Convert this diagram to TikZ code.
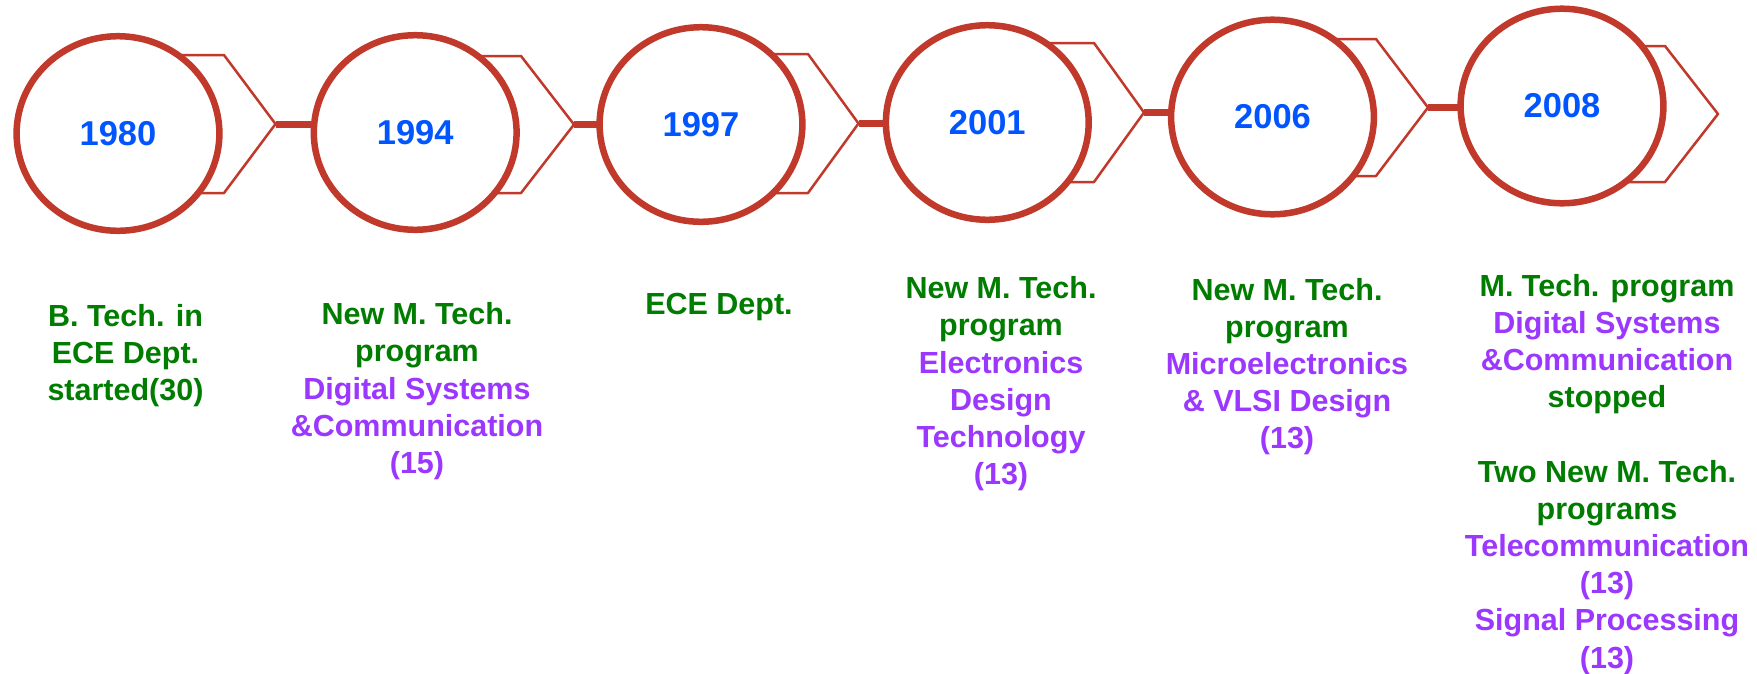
\documentclass[tikz,border=0pt]{standalone}
\usepackage{fontspec}
\setmainfont{Liberation Sans}
\usetikzlibrary{shapes.geometric}
\definecolor{ringred}{RGB}{192,57,43}
\definecolor{yearblue}{RGB}{0,85,255}
\definecolor{txtgreen}{RGB}{0,125,0}
\definecolor{txtpurple}{RGB}{155,55,255}
\pgfdeclarelayer{bg}
\pgfdeclarelayer{back}
\pgfsetlayers{bg,back,main}
\newcommand{\pl}[1]{\textcolor{txtpurple}{#1}}
\newcommand{\firstline}{\rule{0pt}{24.4pt}}
\begin{document}
\begin{tikzpicture}[x=1pt,y=-1pt,
  ring/.style={ellipse, draw=ringred, line width=6.5pt, fill=white,
    minimum width=202.8pt, minimum height=194.6pt, inner sep=0pt,
    text=yearblue, font=\fontsize{34.5}{40}\selectfont\bfseries},
  chev/.style={draw=ringred, line width=2.5pt, line join=round, fill=white},
  link/.style={draw=ringred, line width=7pt},
  desc/.style={anchor=north, align=center, inner sep=0pt, text=txtgreen,
    font=\fontsize{30.5}{37.2}\selectfont\bfseries}]
\begin{pgfonlayer}{bg}
\fill[white] (0,0) rectangle (1757,673);
\end{pgfonlayer}
\useasboundingbox (0,0) rectangle (1757,673);

% circles
\node[ring] (c1) at (118,133.5) {1980};
\node[ring] (c2) at (415.2,132.5) {1994};
\node[ring] (c3) at (701,124.5) {1997};
\node[ring] (c4) at (987.3,122.5) {2001};
\node[ring] (c5) at (1272.5,117) {2006};
\node[ring] (c6) at (1562,106) {2008};

\begin{pgfonlayer}{back}
\draw[chev] (c1.center |- 0,55) -- (224,55) -- (275.5,124) coordinate (t1) -- (224,193) -- (c1.center |- 0,193);
\draw[chev] (c2.center |- 0,56) -- (521,56) -- (574,124.5) coordinate (t2) -- (521,193) -- (c2.center |- 0,193);
\draw[chev] (c3.center |- 0,54) -- (808,54) -- (858.5,123.5) coordinate (t3) -- (808,193) -- (c3.center |- 0,193);
\draw[chev] (c4.center |- 0,43) -- (1094,43) -- (1144,112.5) coordinate (t4) -- (1094,182) -- (c4.center |- 0,182);
\draw[chev] (c5.center |- 0,39) -- (1376,39) -- (1428,107.5) coordinate (t5) -- (1376,176) -- (c5.center |- 0,176);
\draw[chev] (c6.center |- 0,46) -- (1665,46) -- (1718,114) coordinate (t6) -- (1665,182) -- (c6.center |- 0,182);
\draw[link] (t1) -- (t1 -| c2.center);
\draw[link] (t2) -- (t2 -| c3.center);
\draw[link] (t3) -- (t3 -| c4.center);
\draw[link] (t4) -- (t4 -| c5.center);
\draw[link] (t5) -- (t5 -| c6.center);
\end{pgfonlayer}

% descriptions
\node[desc] (d1) at (125.5,301.5) {\firstline B. Tech. in\\ECE Dept.\\started(30)};
\node[desc] (d2) at (417,300) {\firstline New M. Tech.\\program\\\pl{Digital Systems}\\\pl{\&Communication}\\\pl{(15)}};
\node[desc] (d3) at (719,289.5) {\firstline ECE Dept.};
\node[desc] (d4) at (1001,274) {\firstline New M. Tech.\\program\\\pl{Electronics}\\\pl{Design}\\\pl{Technology}\\\pl{(13)}};
\node[desc] (d5) at (1287,275.5) {\firstline New M. Tech.\\program\\\pl{Microelectronics}\\\pl{\& VLSI Design}\\\pl{(13)}};
\node[desc] (d6) at (1607,271.5) {\firstline M. Tech. program\\\pl{Digital Systems}\\\pl{\&Communication}\\stopped\\[37.2pt]Two New M. Tech.\\programs\\\pl{Telecommunication}\\\pl{(13)}\\\pl{Signal Processing}\\\pl{(13)}};
\end{tikzpicture}
\end{document}
